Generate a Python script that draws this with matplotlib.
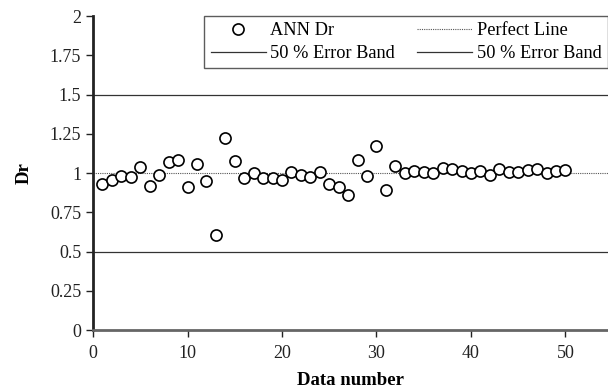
import matplotlib
matplotlib.use("Agg")
import matplotlib.pyplot as plt
import numpy as np

plt.rcParams['font.family'] = ['Liberation Serif', 'DejaVu Serif']

# data
data_number = list(range(1, 51))
ann_dr = [0.93, 0.955, 0.98, 0.975, 1.04, 0.92, 0.99, 1.07, 1.083, 0.913,
          1.055, 0.947, 0.605, 1.225, 1.078, 0.968, 0.998, 0.966, 0.97, 0.957,
          1.008, 0.985, 0.975, 1.006, 0.932, 0.914, 0.862, 1.08, 0.978, 1.172,
          0.892, 1.045, 0.998, 1.013, 1.004, 1.002, 1.03, 1.028, 1.011, 1.002,
          1.011, 0.985, 1.023, 1.008, 1.008, 1.017, 1.028, 1.002, 1.015, 1.019]
perfect = 1.0
band_low = 0.5
band_high = 1.5
yticks = [0, 0.25, 0.5, 0.75, 1, 1.25, 1.5, 1.75, 2]
ytick_labels = ['0', '0.25', '0.5', '0.75', '1', '1.25', '1.5', '1.75', '2']
xticks = [0, 10, 20, 30, 40, 50]

fig = plt.figure(figsize=(6.08, 3.91), dpi=100)
ax = fig.add_axes([0.153, 0.156, 0.847, 0.803])

h_ann, = ax.plot(data_number, ann_dr, 'o', mfc='white', mec='black', ms=8, mew=1.2,
                 label='ANN Dr', zorder=3)
h_perf = ax.axhline(perfect, color='#555555', lw=0.8, ls=(0, (1, 1)), label='Perfect Line')
h_hi = ax.axhline(band_high, color='#333333', lw=0.9, label='50 % Error Band')
h_lo = ax.axhline(band_low, color='#333333', lw=0.9, label='50 % Error Band')

ax.set_xlim(0, 54.5)
ax.set_ylim(0, 2)
ax.set_yticks(yticks)
ax.set_yticklabels(ytick_labels)
ax.set_xticks(xticks)
ax.tick_params(direction='out', length=5, width=1, labelsize=13, colors='#222222')
ax.tick_params(axis='x', pad=6)

ax.spines['top'].set_visible(False)
ax.spines['right'].set_visible(False)
ax.spines['left'].set_linewidth(2)
ax.spines['left'].set_color('#222222')
ax.spines['bottom'].set_linewidth(2)
ax.spines['bottom'].set_color('#666666')

ax.set_xlabel('Data number', fontsize=13.5, fontweight='bold', labelpad=7)
ax.set_ylabel('Dr', fontsize=13.5, fontweight='bold', labelpad=12)

# legend fills column by column: ANN/Perfect on top row
leg = ax.legend([h_ann, h_hi, h_perf, h_lo],
                ['ANN Dr', '50 % Error Band', 'Perfect Line', '50 % Error Band'],
                ncol=2, loc='upper right', bbox_to_anchor=(1.0, 1.0),
                fontsize=13.2, frameon=True, fancybox=False, borderpad=0.35,
                handlelength=3.0, columnspacing=1.2, labelspacing=0.3,
                handletextpad=0.25, borderaxespad=0)
leg.get_frame().set_edgecolor('#333333')
leg.get_frame().set_linewidth(1)

fig.savefig('out.png', dpi=100)
